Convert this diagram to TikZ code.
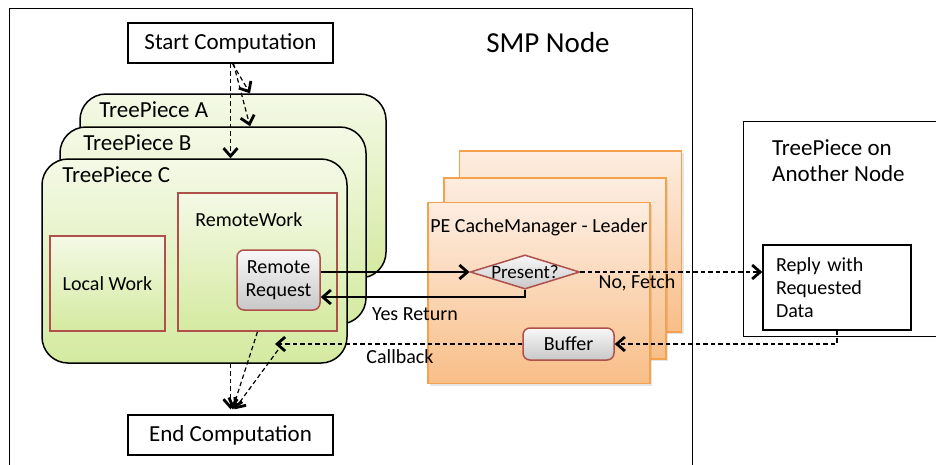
\documentclass[tikz,border=0pt]{standalone}
\usepackage{fontspec}
\setmainfont{Carlito}
\usetikzlibrary{calc,arrows.meta,positioning,shapes.geometric,shadows}
\definecolor{leafhi}{HTML}{F4F9E6}
\definecolor{leaflo}{HTML}{D4EAA0}
\definecolor{brick}{HTML}{B0504A}
\definecolor{peach}{HTML}{FDEDE0}
\definecolor{apricot}{HTML}{F8BE88}
\definecolor{amber}{HTML}{F4A24E}
\definecolor{greyhi}{HTML}{F8F8F8}
\definecolor{greylo}{HTML}{C8C8C8}

\begin{document}
\begin{tikzpicture}[x=1pt,y=-1pt]

\tikzset{bigfont/.style={font=\fontsize{29}{33}\selectfont,inner sep=0pt},
headfont/.style={font=\fontsize{23}{26}\selectfont},
txt/.style={font=\fontsize{20}{23}\selectfont,inner sep=0pt},
plainbox/.style={draw=black,fill=white,line width=1.4pt,inner sep=0pt},
treepiece/.style={draw=black,line width=1.5pt,rounded corners=26pt,top color=leafhi,bottom color=leaflo,inner sep=0pt},
workbox/.style={draw=brick,line width=1.5pt,top color=leafhi,bottom color=leaflo,inner sep=0pt},
pebox/.style={draw=amber,line width=1.5pt,top color=peach,bottom color=apricot,inner sep=0pt,drop shadow={opacity=0.2,shadow xshift=2pt,shadow yshift=-2pt}},
greybox/.style={draw=brick,line width=1.5pt,rounded corners=7pt,top color=greyhi,bottom color=greylo,inner sep=0pt},
call/.style={line width=1.4pt,-{Straight Barb[length=8pt,width=14pt,line width=2.8pt]}},
dashcall/.style={call,line width=1.2pt,dash pattern=on 4.5pt off 3pt}}

\useasboundingbox (0,0) rectangle (936,464);
\clip (0,0) rectangle (936,464);

% Frames
\node[plainbox,minimum width=683pt,minimum height=500pt,anchor=north west] (smp) at (9,8) {};
\node[bigfont] (smplabel) at (548,43) {SMP Node};
\node[plainbox,minimum width=260pt,minimum height=215pt,anchor=north west] (other) at (743,121) {};
\node[txt,headfont,align=left,below right=18pt and 29pt of other.north west] (otherlabel) {TreePiece on\\Another Node};

% TreePieces
\node[treepiece,minimum width=306pt,minimum height=184pt] (tpA) at (233,186) {};
\node[txt,headfont,below right=8pt and 20pt of tpA.north west] (tpAlabel) {TreePiece A};
\node[treepiece,minimum width=306pt,minimum height=197pt] (tpB) at (213,225.5) {};
\node[txt,headfont,below right=8pt and 24pt of tpB.north west] (tpBlabel) {TreePiece B};
\node[treepiece,minimum width=305pt,minimum height=204pt] (tpC) at (194.5,261) {};
\node[txt,headfont,below right=8pt and 21pt of tpC.north west] (tpClabel) {TreePiece C};

\node[workbox,txt,minimum width=115pt,minimum height=95pt] (local) at (107.5,283.5) {Local Work};
\node[workbox,minimum width=159pt,minimum height=138pt] (remote) at (257.5,262) {};
\node[txt,below right=20pt and 18pt of remote.north west] (remotelabel) {RemoteWork};
\node[greybox,txt,align=center,minimum width=83pt,minimum height=60pt] (req) at (278.5,280) {Remote\\Request};

% CacheManager stack
\foreach \i/\x/\y in {3/570.5/241.5, 2/555/268.5, 1/539/293}
  \node[pebox,minimum width=222pt,minimum height=181pt] (pe\i) at (\x,\y) {};
\node[txt,below=17pt of pe1.north] (pelabel) {PE CacheManager - Leader};
\node[diamond,aspect=3.2,draw=brick,line width=1.5pt,top color=greyhi,bottom color=greylo,txt,font=\fontsize{19}{22}\selectfont] (present) at (525,272) {Present?};
\node[greybox,txt,minimum width=91pt,minimum height=32pt] (buffer) at (568.5,344) {Buffer};

\node[plainbox,txt,align=left,text width=122pt,inner xsep=13pt,minimum height=85pt] (reply) at (837,287.5) {Reply with\\Requested\\Data};

% Start and end
\node[plainbox,headfont,minimum width=205pt,minimum height=40pt] (start) at (230.5,43) {Start Computation};
\node[plainbox,headfont,minimum width=205pt,minimum height=40pt] (end) at (230.5,435) {End Computation};

% Edges
\draw[dashcall] ($(start.south)+(2,0)$) -- ($(tpA.north)+(17,0)$);
\draw[dashcall] ($(start.south)+(3,0)$) -- ($(tpB.north)+(37,0)$);
\draw[dashcall] (start.south) -- (start.south |- tpC.north);

\draw[call] (req.east |- present.west) -- (present.west);
\draw[call] (present.south) |- ($(req.east)+(0,17)$);
\draw[dashcall] (present.east) -- (present.east -| reply.west);
\draw[dashcall] (reply.south) |- (buffer.east);
\coordinate (cb) at (275,344);
\draw[dashcall] (buffer.west) -- (cb);

\draw[dashcall] (end.north |- tpC.south) -- ($(end.north)+(0,-5)$);
\draw[dashcall] (remote.south) -- ($(end.north)+(2,-5)$);
\draw[dashcall] ($(cb)+(3,6)$) -- ($(end.north)+(4,-5)$);

% Edge labels
\node[txt] (yes) at (415,314) {Yes Return};
\node[txt] (nofetch) at (637,283) {No, Fetch};
\node[txt] (callback) at (400,357) {Callback};

\end{tikzpicture}
\end{document}
